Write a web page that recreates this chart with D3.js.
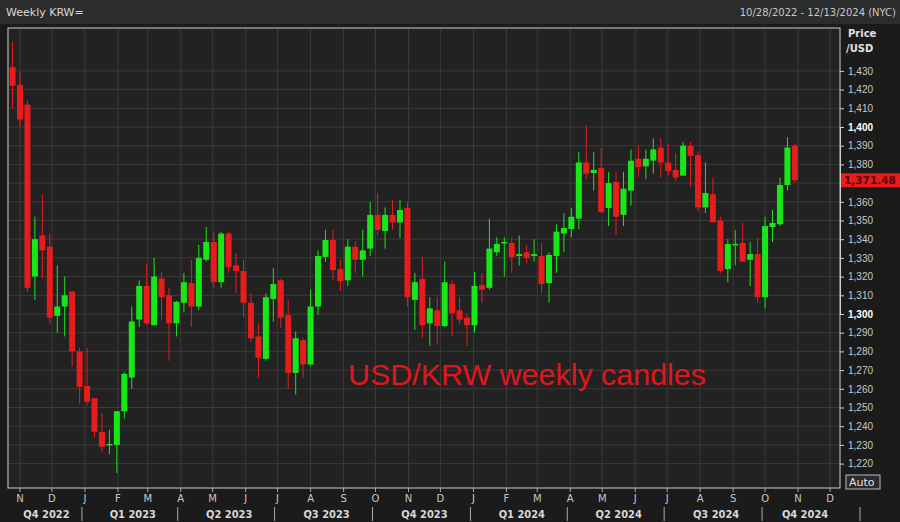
<!DOCTYPE html>
<html><head><meta charset="utf-8">
<script src="https://cdn.jsdelivr.net/npm/d3@7"></script>
<style>body{margin:0;background:#1b1b1b;}svg{display:block;font-family:"DejaVu Sans",sans-serif;}</style>
</head><body><svg id="c" width="900" height="522"></svg>
<script>
const firstWeek = "2022-10-25";
const opens  = [1432,1422.5,1412,1320,1342,1336,1299,1304,1312,1280,1261.5,1255,1237,1230.5,1230,1248,1266,1297,1315,1294,1319,1310,1295,
1306,1316.5,1304,1329,1338.5,1317,1343,1326,1323,1306,1288,1276,1308,1318,1299.5,1268.5,1286,1273,1304,1330.5,1339.6,1324,1318,
1336,1329,1335,1353,1344.4,1353,1349,1356.7,1307.5,1318.7,1295,1302,1293.6,1316,1302,1298,1294,1315.5,1314,1333,1338.5,1338,
1331,1333,1331,1331,1316.5,1331,1343,1345.5,1351,1381,1375.4,1378,1356.7,1370.6,1353,1366,1383,1379,1382,1389,1381,1377,1374,
1390,1385,1357,1364,1350,1324,1337.5,1338,1329,1332,1309,1346.5,1348,1369,1390];
const closes = [1422,1404,1314,1340,1334,1298,1304,1310,1280,1261,1253,1237,1229,1230.5,1248,1268,1296,1315,1295,1320,1309,1295,1306.5,
1317,1304,1330,1338.5,1317,1343,1325,1323,1306,1287,1276.5,1309,1316,1298,1268.5,1287,1273,1304,1331,1339.6,1323.5,1317.6,1336,
1329,1334,1353,1345,1353,1349,1355.6,1309,1317,1294,1303,1293.6,1317,1300.5,1297,1294,1315,1313,1335,1337.5,1338.5,1330.5,
1332,1330,1332,1316,1331.6,1344,1346,1352,1381,1375,1377,1354.5,1370,1352,1367,1382,1378.6,1383,1388,1381,1376.5,1373,1390,
1384.5,1357,1364.7,1349,1323,1337.4,1337.5,1328,1332,1309,1347,1348.7,1369,1389,1371.48];
const highs  = [1446,1429,1414,1352,1364,1343,1326,1320,1312,1282,1282,1255,1247,1238,1248,1269,1304,1318,1327,1330,1322.5,1314,1307,
1322,1329,1337,1346.5,1344,1344,1344,1332.6,1329,1311,1295,1311,1324.6,1319,1307.5,1290.6,1287,1313,1334,1345,1345,1329,1340,
1339,1345,1360,1364.7,1357,1361,1361,1360,1322,1330.5,1309,1309,1328,1318,1309,1300,1322.5,1322,1351,1341,1341,1341,
1342,1337,1340,1338,1333,1348,1354,1356.5,1386.6,1401,1386.6,1388.8,1376,1376,1376,1388,1390,1388,1394,1394,1391,1386,1392,
1392,1387,1381,1373,1352,1340,1345,1348.7,1338.5,1340.6,1352,1355.6,1373,1394.6,1391];
const lows   = [1410,1400,1312,1307.5,1319,1295,1290,1288,1272,1252,1251,1234,1226,1225,1215,1244,1260,1293,1294,1294,1297,1275,1288,
1301,1293,1302,1328,1314,1314,1322,1311,1298,1285,1266,1275,1296,1292.5,1260,1257,1266,1272,1299.5,1328,1318,1312,1315,
1322,1320,1331,1342,1335,1345,1340.6,1304,1291.5,1287,1283,1284,1293,1288,1294.5,1283,1290,1306,1313,1331,1320,1322,
1326,1327,1328,1311,1306,1322,1333,1341,1345.5,1372,1366,1354,1347,1342,1347,1358,1373,1372,1375,1373,1374,1371,1374,
1368,1355,1354,1350,1322,1317,1326,1328,1315,1306,1303,1338.5,1347,1366,1370];
const yTicks = d3.range(1220, 1431, 10);
const monthLabels = ["N","D","J","F","M","A","M","J","J","A","S","O","N","D","J","F","M","A","M","J","J","A","S","O","N","D"];
const quarterLabels = ["Q4 2022","Q1 2023","Q2 2023","Q3 2023","Q4 2023","Q1 2024","Q2 2024","Q3 2024","Q4 2024"];

const svg = d3.select("#c");
const W=900,H=522, L=8, R=840, T=28, B=488;
const parse = d3.timeParse("%Y-%m-%d");
const d0 = parse(firstWeek);
const data = opens.map((o,i)=>({date:d3.timeWeek.offset(d0,i),o,c:closes[i],h:highs[i],l:lows[i]}));
const x = d3.scaleTime().domain([new Date(2022,10,1), new Date(2024,11,1)]).range([20,830]);
const y = d3.scaleLinear().domain([1300,1400]).range([314,127]);
const last = closes[closes.length-1];

svg.append("rect").attr("width",W).attr("height",H).attr("fill","#1b1b1b");
svg.append("rect").attr("width",W).attr("height",24).attr("fill","#2c2c2c");
svg.append("text").attr("x",6).attr("y",16).attr("fill","#d8d8d8").attr("font-size",11).text("Weekly KRW=");
svg.append("text").attr("x",896).attr("y",16).attr("text-anchor","end").attr("fill","#c8c8c8").attr("font-size",10).text("10/28/2022 - 12/13/2024 (NYC)");
svg.append("rect").attr("x",L).attr("y",T).attr("width",R-L).attr("height",B-T).attr("fill","#222222").attr("stroke","#d0d0d0").attr("stroke-width",1);

const months = d3.timeMonth.range(new Date(2022,10,1), new Date(2024,11,2));
svg.append("g").selectAll("line").data(months).join("line")
 .attr("x1",d=>x(d)).attr("x2",d=>x(d)).attr("y1",T+1).attr("y2",B-1).attr("stroke","#3a3a3a");
svg.append("g").selectAll("line").data(yTicks).join("line")
 .attr("x1",L+1).attr("x2",R-1).attr("y1",d=>y(d)).attr("y2",d=>y(d)).attr("stroke","#3a3a3a");

const ax = svg.append("g").attr("transform",`translate(${R},0)`)
 .call(d3.axisRight(y).tickValues(yTicks).tickSize(4).tickFormat(d=>Math.abs(y(d)-y(last))<8?"":d3.format(",")(d)));
ax.select(".domain").attr("stroke","#d0d0d0");
ax.selectAll("line").attr("stroke","#d0d0d0");
ax.selectAll("text").attr("font-size",10).attr("x",8)
 .attr("font-weight",d=>d%100===0?"bold":"normal").attr("fill",d=>d%100===0?"#ffffff":"#c8c8c8");
svg.append("text").attr("x",848).attr("y",37).attr("fill","#e0e0e0").attr("font-size",10).attr("font-weight","bold").text("Price");
svg.append("text").attr("x",846).attr("y",52).attr("fill","#e0e0e0").attr("font-size",10).attr("font-weight","bold").text("/USD");

const green="#19e619", red="#e81c1c";
const g = svg.append("g");
g.selectAll("line").data(data).join("line")
 .attr("x1",d=>x(d.date)).attr("x2",d=>x(d.date)).attr("y1",d=>y(d.h)).attr("y2",d=>y(d.l))
 .attr("stroke",d=>d.c>=d.o?green:red).attr("stroke-width",1);
g.selectAll("rect").data(data).join("rect")
 .attr("x",d=>x(d.date)-3).attr("width",6)
 .attr("y",d=>y(Math.max(d.o,d.c))).attr("height",d=>Math.max(1.5,Math.abs(y(d.o)-y(d.c))))
 .attr("fill",d=>d.c>=d.o?green:red);

svg.append("rect").attr("x",841).attr("y",y(last)-7).attr("width",59).attr("height",14).attr("fill","#e81c1c");
svg.append("text").attr("x",844).attr("y",y(last)+4).attr("fill","#5a0000").attr("font-size",10.5).attr("font-weight","bold").text(d3.format(",.2f")(last));

svg.append("text").attr("x",348).attr("y",385).attr("fill","#e0161e").attr("font-size",29)
 .attr("font-family","'Liberation Sans',sans-serif").attr("textLength",358).attr("lengthAdjust","spacingAndGlyphs").text("USD/KRW weekly candles");

svg.append("rect").attr("x",846).attr("y",475).attr("width",34).attr("height",14).attr("fill","#2a2a2a").attr("stroke","#bbbbbb");
svg.append("text").attr("x",849).attr("y",486).attr("fill","#e0e0e0").attr("font-size",11).text("Auto");

const bx = svg.append("g");
bx.selectAll("line").data(months).join("line").attr("x1",d=>x(d)).attr("x2",d=>x(d)).attr("y1",B).attr("y2",B+4).attr("stroke","#aaaaaa");
bx.selectAll("text").data(months).join("text").attr("x",d=>x(d)).attr("y",502).attr("text-anchor","middle")
 .attr("fill","#c8c8c8").attr("font-size",10).text((d,i)=>monthLabels[i]);
const qStarts = d3.timeMonth.every(3).range(new Date(2022,9,1), new Date(2025,0,2));
qStarts.forEach((q,i)=>{
  if(i>0) svg.append("line").attr("x1",x(q)-3).attr("x2",x(q)-3).attr("y1",507).attr("y2",521).attr("stroke","#aaaaaa");
  const a=Math.max(x(q),L), b=Math.min(x(d3.timeMonth.offset(q,3)),845);
  if(i<quarterLabels.length) svg.append("text").attr("x",(a+b)/2).attr("y",518).attr("text-anchor","middle")
   .attr("fill","#d8d8d8").attr("font-size",11).attr("font-weight","bold").attr("font-family","'DejaVu Sans Condensed',sans-serif").text(quarterLabels[i]);
});
</script></body></html>
